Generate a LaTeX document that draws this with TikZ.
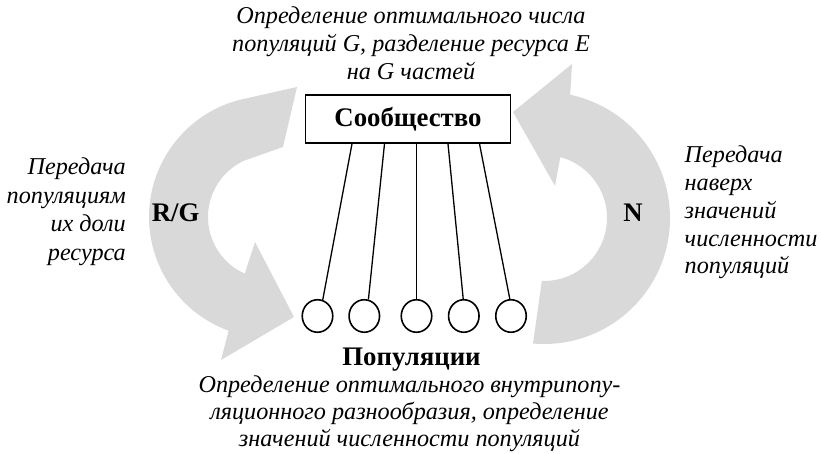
\documentclass[tikz,border=0pt]{standalone}
\usepackage{fontspec}
\setmainfont{Liberation Serif}
\usetikzlibrary{calc,shapes.geometric}
\definecolor{arrowgray}{RGB}{217,217,217}
\begin{document}
\begin{tikzpicture}[x=1pt,y=1pt,
  bigarrow/.style={fill=arrowgray,draw=none},
  itext/.style={font=\fontsize{24.2}{27.7}\selectfont\itshape,inner sep=0pt},
  btext/.style={font=\fontsize{26.8}{30}\selectfont\bfseries,inner sep=0pt},
  popcircle/.style={ellipse,draw,line width=1.6pt,minimum width=30.5pt,minimum height=32.5pt,inner sep=0pt},
  link/.style={line width=1.3pt},
  commbox/.style={draw,line width=1.6pt,minimum width=205pt,minimum height=48pt}]
\useasboundingbox (0,0) rectangle (821,454);
% big curved arrows
\coordinate (CL) at (270,237);
\coordinate (CR) at (544,236);
\fill[bigarrow] (297,367) -- ($(CL)+(104.4:121)$) arc[start angle=104.4,end angle=250,radius=121]
  -- (221,94) -- (294,137) -- (255,212) -- ($(CL)+(246:62)$)
  arc[start angle=246,end angle=115,radius=62] -- (283,307) -- cycle;
\fill[bigarrow] ($(CR)+(-95:126)$) arc[start angle=-95,end angle=78,radius=126]
  -- (572,390) -- (513,342) -- (555,268) -- ($(CR)+(75:63)$)
  arc[start angle=75,end angle=-92,radius=63] -- cycle;
% community box
\node[commbox,btext] (comm) at (408,335) {Сообщество};
% populations
\node[popcircle] (p1) at (317.5,138) {};
\node[popcircle] (p2) at (364.3,138) {};
\node[popcircle] (p3) at (416.5,138) {};
\node[popcircle] (p4) at (463.8,138) {};
\node[popcircle] (p5) at (511,138) {};
\draw[link] ([xshift=-56pt]comm.south) -- (p1.72);
\draw[link] ([xshift=-23.5pt]comm.south) -- (p2.76);
\draw[link] ([xshift=8.5pt]comm.south) -- (p3.90);
\draw[link] ([xshift=40pt]comm.south) -- (p4.92);
\draw[link] ([xshift=71.5pt]comm.south) -- (p5.94);
% texts
\node[itext,font=\fontsize{24.2}{28.2}\selectfont\itshape,align=center,anchor=north] (toptext) at (411,447.5)
  {Определение оптимального числа\\популяций G, разделение ресурса E\\на G частей};
\node[itext,font=\fontsize{24.2}{28.5}\selectfont\itshape,align=right,anchor=north east] (lefttext) at (126,296)
  {Передача\\популяциям\\их доли\\ресурса};
\node[itext,align=left,anchor=north west] (righttext) at (684.5,308)
  {Передача\\наверх\\значений\\численности\\популяций};
\node[btext,anchor=north] (poplabel) at (411.5,106) {Популяции};
\node[itext,font=\fontsize{24.2}{27}\selectfont\itshape,align=center,anchor=north] (bottext) at (409.5,78.5)
  {Определение оптимального внутрипопу-\\ляционного разнообразия, определение\\значений численности популяций};
\node[btext] (rg) at (175.6,241) {R/G};
\node[btext] (nlabel) at (633,241) {N};
\end{tikzpicture}
\end{document}
